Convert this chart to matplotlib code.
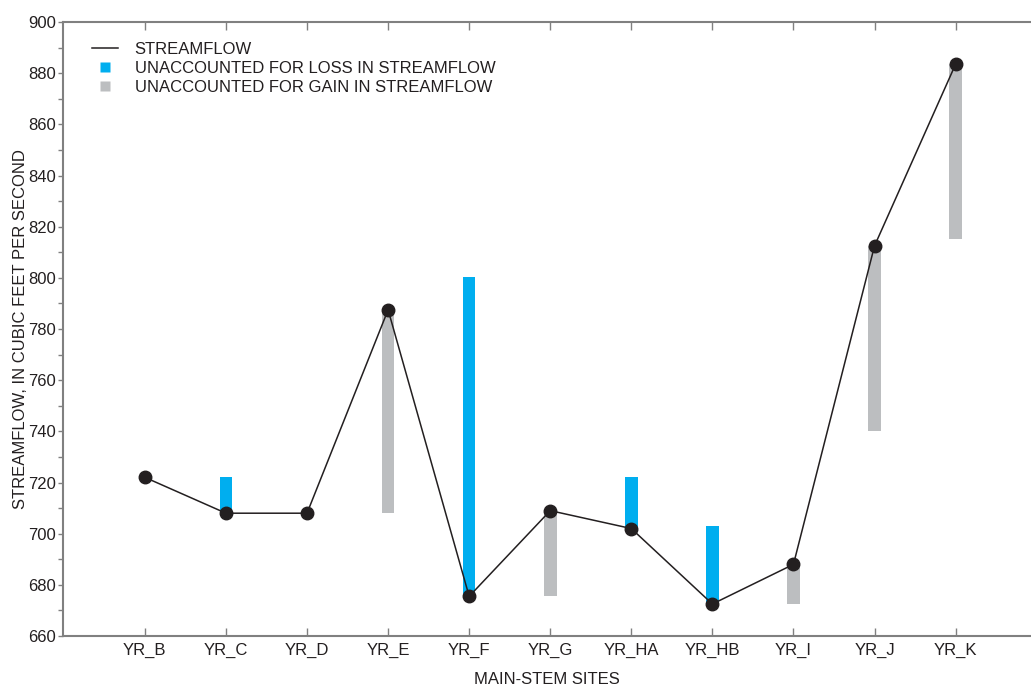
import matplotlib.pyplot as plt
from matplotlib.lines import Line2D
from matplotlib.ticker import MultipleLocator

plt.rcParams['font.family'] = ['Liberation Sans', 'DejaVu Sans']

sites = ['YR_B', 'YR_C', 'YR_D', 'YR_E', 'YR_F', 'YR_G', 'YR_HA', 'YR_HB', 'YR_I', 'YR_J', 'YR_K']
flow = [722, 708, 708, 787.5, 675.5, 709, 702, 672.5, 688, 812.5, 883.5]
# unaccounted loss: bar from measured flow up to expected value
loss_top = [None, 722, None, None, 800.5, None, 722, 703, None, None, None]
# unaccounted gain: bar from expected value up to measured flow
gain_bottom = [None, None, None, 708, None, 675.5, None, None, 672.5, 740, 815]

color_loss = '#00aeef'
color_gain = '#bcbec0'
color_line = '#231f20'
color_axis = '#808080'
fs = 12

fig = plt.figure(figsize=(10.31, 6.86), dpi=100)
ax = fig.add_axes([63 / 1031, 50 / 686, 968 / 1031, 614 / 686])

x = list(range(len(sites)))
bw = 0.155
for i in x:
    if loss_top[i] is not None:
        ax.bar(i, loss_top[i] - flow[i], bottom=flow[i], width=bw, color=color_loss, zorder=1)
    if gain_bottom[i] is not None:
        ax.bar(i, flow[i] - gain_bottom[i], bottom=gain_bottom[i], width=bw, color=color_gain, zorder=1)

ax.plot(x, flow, color=color_line, lw=1.1, marker='o', ms=9, zorder=3)

ax.set_xlim(-1.01, 10.93)
ax.set_ylim(660, 900)
ax.set_xticks(x)
ax.set_xticklabels(sites, fontsize=fs, color=color_line)
ax.yaxis.set_major_locator(MultipleLocator(20))
ax.yaxis.set_minor_locator(MultipleLocator(10))
ax.tick_params(axis='y', which='major', direction='out', length=3.5, width=1, color=color_axis,
               labelsize=fs, labelcolor=color_line, pad=1.5)
ax.tick_params(axis='y', which='minor', direction='out', length=3.5, width=1, color=color_axis)
ax.tick_params(axis='x', direction='in', length=6, width=1, color=color_axis, top=True,
               labelsize=fs, pad=5)

for side in ['left', 'top', 'bottom']:
    ax.spines[side].set_color(color_axis)
    ax.spines[side].set_linewidth(1.5)
ax.spines['right'].set_visible(False)

ax.set_xlabel('MAIN-STEM SITES', fontsize=fs, color=color_line, labelpad=10)
ax.set_ylabel('STREAMFLOW, IN CUBIC FEET PER SECOND', fontsize=fs, color=color_line)
ax.yaxis.set_label_coords(-0.036, 0.5)

handles = [
    Line2D([], [], color=color_line, lw=1.1),
    Line2D([], [], ls='none', marker='s', ms=7.5, mfc=color_loss, mec='none'),
    Line2D([], [], ls='none', marker='s', ms=7.5, mfc=color_gain, mec='none'),
]
labels = ['STREAMFLOW', 'UNACCOUNTED FOR LOSS IN STREAMFLOW', 'UNACCOUNTED FOR GAIN IN STREAMFLOW']
leg = ax.legend(handles, labels, loc='upper left', bbox_to_anchor=(0.03, 0.968), frameon=False,
                fontsize=fs, handlelength=1.56, handletextpad=1.0,
                labelspacing=0.25, borderaxespad=0, borderpad=0)
for t in leg.get_texts():
    t.set_color(color_line)

fig.savefig('out.png', dpi=100)
